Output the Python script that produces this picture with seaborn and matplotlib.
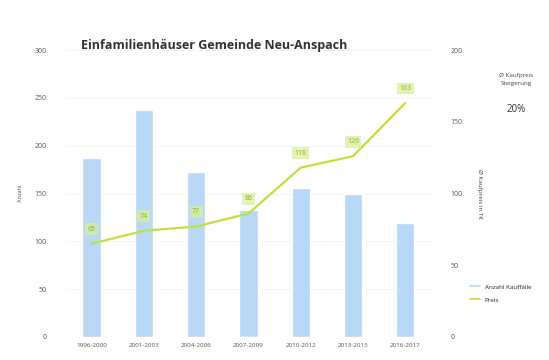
import matplotlib
matplotlib.use("Agg")
import matplotlib.pyplot as plt
from matplotlib.lines import Line2D
import seaborn as sns
import pandas as pd

sns.set_theme(style="white")
plt.rcParams["font.family"] = ["Open Sans", "DejaVu Sans"]

# Zeiträume und Werte
zeitraeume = ["1996-2000", "2001-2003", "2004-2006", "2007-2009",
              "2010-2012", "2013-2015", "2016-2017"]
anzahl_kauffaelle = [187, 237, 172, 133, 156, 150, 119]
preis = [65, 74, 77, 86, 118, 126, 163]

df = pd.DataFrame({"Zeitraum": zeitraeume,
                   "Anzahl Kauffälle": anzahl_kauffaelle,
                   "Preis": preis})

bar_color = "#b9d8f7"
line_color = "#bde33a"

fig = plt.figure(figsize=(5.49, 3.60), dpi=100)
ax = fig.add_axes([0.120, 0.064, 0.665, 0.797])

sns.barplot(data=df, x="Zeitraum", y="Anzahl Kauffälle", color=bar_color,
            width=0.35, saturation=1, ax=ax)
ax.set_ylim(0, 300)
ax.set_yticks(range(0, 301, 50))
ax.yaxis.grid(True, color="#f3f3f3", linewidth=0.6)
ax.set_axisbelow(True)
ax.set_xlabel("")
ax.set_ylabel("Anzahl", fontsize=4, color="#555555", labelpad=8)
ax.tick_params(axis="y", labelsize=5, colors="#555555", length=0, pad=14)
ax.tick_params(axis="x", labelsize=4.5, colors="#555555", length=0, pad=4)
for s in ax.spines.values():
    s.set_visible(False)

ax2 = ax.twinx()
sns.lineplot(data=df, x="Zeitraum", y="Preis", color=line_color,
             linewidth=1.6, ax=ax2, legend=False)
ax2.set_ylim(0, 200)
ax2.set_yticks(range(0, 201, 50))
ax2.set_ylabel("Ø Kaufpreis in T€", fontsize=4.5, color="#444444",
               rotation=-90, labelpad=14)
ax2.tick_params(axis="y", labelsize=5, colors="#555555", length=0, pad=14)
for s in ax2.spines.values():
    s.set_visible(False)

for i, v in enumerate(preis):
    ax2.annotate(f"{v}", (i, v), xytext=(0, 8), textcoords="offset points",
                 ha="center", va="bottom", fontsize=5, color="#8fae2a",
                 bbox=dict(boxstyle="square,pad=0.35", fc="#d9ef9a",
                           ec="none", alpha=0.75))

fig.text(0.39, 0.875, "Einfamilienhäuser Gemeinde Neu-Anspach",
         ha="center", va="center", fontsize=9, fontweight="bold",
         color="#333333")

# Kasten mit Steigerung
fig.text(0.94, 0.780, "Ø Kaufpreis\nSteigerung", ha="center", va="center",
         fontsize=4.5, color="#444444", linespacing=1.8)
fig.text(0.94, 0.695, "20%", ha="center", va="center", fontsize=7,
         color="#333333")

handles = [Line2D([], [], color=bar_color, linewidth=1.2),
           Line2D([], [], color=line_color, linewidth=1.2)]
fig.legend(handles, ["Anzahl Kauffälle", "Preis"], loc="center left",
           bbox_to_anchor=(0.845, 0.185), frameon=False, fontsize=4.5,
           handlelength=1.6, labelspacing=1.2)

fig.savefig("out.png", dpi=100)
